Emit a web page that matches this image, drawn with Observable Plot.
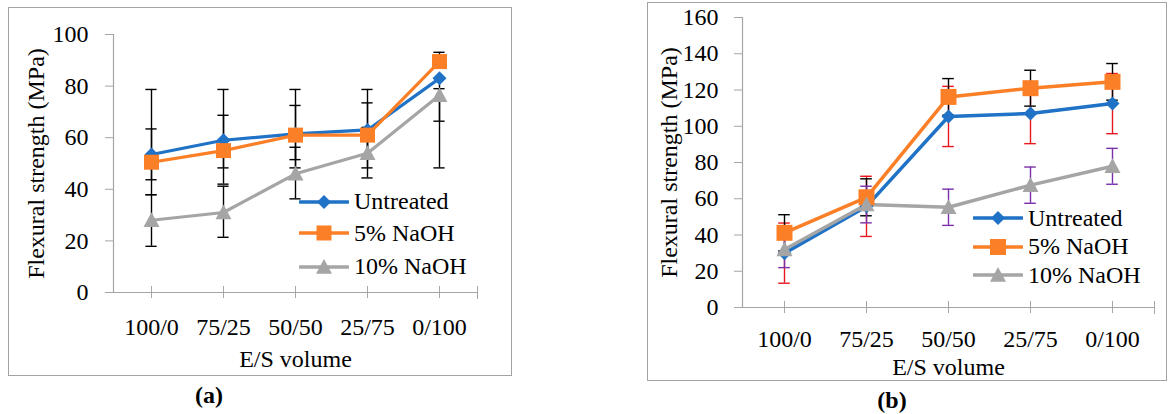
<!DOCTYPE html>
<html>
<head>
<meta charset="utf-8">
<script src="https://cdn.jsdelivr.net/npm/d3@7"></script>
<script src="https://cdn.jsdelivr.net/npm/@observablehq/plot@0.6"></script>
<style>
  body { margin: 0; background: #fff; }
  #wrap { position: relative; width: 1169px; height: 414px; overflow: hidden; font-family: "Liberation Serif", serif; color: #000; }
  .box { position: absolute; border: 1.5px solid #a3a3a3; box-sizing: border-box; }
  .panel { position: absolute; top: 0; }
  .legrow { position: absolute; display: flex; align-items: center; height: 30px; font-size: 24px; white-space: nowrap; }
  .legrow svg { display: block; margin-right: 5px; }
  .tag { position: absolute; font-weight: bold; font-size: 24px; line-height: 1; }
</style>
</head>
<body>
<div id="wrap"></div>
<script>
// ---------------- data ----------------
const categories = ["100/0", "75/25", "50/50", "25/75", "0/100"];
const seriesNames = ["Untreated", "5% NaOH", "10% NaOH"];
const yTicksA = [0, 20, 40, 60, 80, 100];
const yTicksB = [0, 20, 40, 60, 80, 100, 120, 140, 160];

// panel (a): mean values and error-bar ends (MPa)
const aUntreated     = [53.5, 59.0, 61.5, 63.0, 83.0];
const aUntreatedLow  = [43.7, 48.3, 51.5, 53.0, 48.3];
const aUntreatedHigh = [63.4, 68.7, 72.5, 73.5, 83.0];
const aNaOH5         = [50.5, 55.0, 61.0, 61.0, 89.5];
const aNaOH5Low      = [37.9, 42.0, 48.3, 48.3, 89.5];
const aNaOH5High     = [78.7, 78.7, 78.7, 78.7, 93.1];
const aNaOH10        = [28.0, 31.0, 46.0, 54.0, 76.5];
const aNaOH10Low     = [17.9, 21.4, 36.3, 44.4, 66.4];
const aNaOH10High    = [37.9, 41.2, 56.3, 64.0, 79.0];

// panel (b): mean values and symmetric errors (MPa)
const bUntreated    = [30.0, 55.8, 105.4, 107.0, 112.5];
const bUntreatedErr = [16.6, 16.6, 16.6, 16.6, 16.6];
const bNaOH5        = [41.2, 60.8, 116.2, 121.0, 124.5];
const bNaOH5Err     = [10.0, 10.2, 10.1, 9.9, 10.1];
const bNaOH10       = [32.0, 56.8, 55.3, 67.5, 77.9];
const bNaOH10Err    = [10.0, 10.1, 10.0, 10.0, 9.9];

// ---------------- helpers ----------------
const rOf = s => s / Math.sqrt(Math.PI); // side in px -> Plot dot r
const symSquare = { draw(ctx, size) { const h = Math.sqrt(size) / 2; ctx.moveTo(-h, -h); ctx.lineTo(h, -h); ctx.lineTo(h, h); ctx.lineTo(-h, h); ctx.closePath(); } };
const symDiamond = { draw(ctx, size) { const h = Math.sqrt(size) / 2; ctx.moveTo(0, -h); ctx.lineTo(h, 0); ctx.lineTo(0, h); ctx.lineTo(-h, 0); ctx.closePath(); } };
const symTriangle = { draw(ctx, size) { const h = Math.sqrt(size) / 2; ctx.moveTo(0, -h); ctx.lineTo(h, h * 0.85); ctx.lineTo(-h, h * 0.85); ctx.closePath(); } };

const colors = ["#1f72c6", "#fb7f26", "#a5a5a5"];
const symbols = [symDiamond, symSquare, symTriangle];

function rows(values, low, high) {
  return categories.map((c, i) => ({ cat: c, value: values[i], low: low[i], high: high[i] }));
}

function drawPanel(cfg) {
  const bw = (cfg.width - cfg.ml - cfg.mr) / categories.length;
  const capInset = bw / 2 - 6;
  const marks = [
    Plot.frame({ anchor: "left", stroke: "#a6a6a6", strokeWidth: 1.2 }),
    Plot.frame({ anchor: "bottom", stroke: "#a6a6a6", strokeWidth: 1.2 }),
    Plot.frame({ anchor: "right", stroke: "#a6a6a6", insetTop: cfg.frameH - 6, insetBottom: -6 }),
    Plot.axisY({ ticks: cfg.yTicks, tickSize: 8, tickPadding: cfg.yPad, stroke: "#a6a6a6",
      label: "Flexural strength (MPa)", labelAnchor: "center", labelOffset: cfg.yLabelOffset, labelArrow: "none" }),
    Plot.axisX({ tickSize: 12, dy: -6, stroke: "#a6a6a6", fill: "none", label: null }),
    Plot.axisX({ tickSize: 0, tickPadding: cfg.xPad, label: "E/S volume", labelAnchor: "center", labelOffset: cfg.xLabelOffset, labelArrow: "none" })
  ];
  cfg.series.forEach(s => {
    marks.push(
      Plot.ruleX(s.data, { x: "cat", y1: "low", y2: "high", stroke: s.errColor, strokeWidth: 1.4 }),
      Plot.tickY(s.data, { x: "cat", y: "low", stroke: s.errColor, strokeWidth: 1.4, insetLeft: capInset, insetRight: capInset }),
      Plot.tickY(s.data, { x: "cat", y: "high", stroke: s.errColor, strokeWidth: 1.4, insetLeft: capInset, insetRight: capInset })
    );
  });
  cfg.series.forEach(s => {
    marks.push(Plot.line(s.data, { x: "cat", y: "value", stroke: s.color, strokeWidth: cfg.lineW, strokeLinejoin: "round" }));
  });
  cfg.series.forEach(s => {
    marks.push(Plot.dot(s.data, { x: "cat", y: "value", symbol: s.symbol, r: s.r, fill: s.color, stroke: "none" }));
  });
  return Plot.plot({
    width: cfg.width, height: cfg.height,
    marginTop: cfg.mt, marginRight: cfg.mr, marginBottom: cfg.mb, marginLeft: cfg.ml,
    style: { fontFamily: "Liberation Serif", fontSize: "24px", color: "#000", background: "transparent", overflow: "visible" },
    x: { type: "band", domain: categories, padding: 0 },
    y: { domain: [0, cfg.yMax] },
    marks
  });
}

const wrap = document.getElementById("wrap");
function addBox(l, t, w, h) {
  const d = document.createElement("div"); d.className = "box";
  Object.assign(d.style, { left: l + "px", top: t + "px", width: w + "px", height: h + "px" });
  wrap.appendChild(d);
}
addBox(8, 7, 504, 369);
addBox(647, 2, 520, 379);

// ---------------- panel (a) ----------------
const seriesA = [
  { data: rows(aUntreated, aUntreatedLow, aUntreatedHigh), color: colors[0], symbol: symbols[0], r: rOf(14), errColor: "#000" },
  { data: rows(aNaOH5, aNaOH5Low, aNaOH5High), color: colors[1], symbol: symbols[1], r: rOf(15), errColor: "#000" },
  { data: rows(aNaOH10, aNaOH10Low, aNaOH10High), color: colors[2], symbol: symbols[2], r: rOf(16), errColor: "#000" }
];
const pA = drawPanel({ width: 500, height: 380, mt: 34, mr: 23, mb: 88, ml: 113, frameH: 258,
  yMax: 100, yTicks: yTicksA, yPad: 17, xPad: 25, yLabelOffset: 87, xLabelOffset: 74, lineW: 3.2, series: seriesA });
pA.classList.add("panel"); pA.style.left = "0px";
wrap.appendChild(pA);

// ---------------- panel (b) ----------------
const err = (v, e) => [v.map((x, i) => x - e[i]), v.map((x, i) => x + e[i])];
const [bUL, bUH] = err(bUntreated, bUntreatedErr);
const [b5L, b5H] = err(bNaOH5, bNaOH5Err);
const [b10L, b10H] = err(bNaOH10, bNaOH10Err);
const seriesB = [
  { data: rows(bUntreated, bUL, bUH), color: colors[0], symbol: symbols[0], r: rOf(14), errColor: "#e8161e" },
  { data: rows(bNaOH5, b5L, b5H), color: colors[1], symbol: symbols[1], r: rOf(16), errColor: "#000" },
  { data: rows(bNaOH10, b10L, b10H), color: colors[2], symbol: symbols[2], r: rOf(16), errColor: "#7a30a8" }
];
const pB = drawPanel({ width: 529, height: 390, mt: 17, mr: 15, mb: 83, ml: 102, frameH: 290,
  yMax: 160, yTicks: yTicksB, yPad: 16, xPad: 22, yLabelOffset: 83, xLabelOffset: 67, lineW: 3.5, series: seriesB });
pB.classList.add("panel"); pB.style.left = "640px";
wrap.appendChild(pB);

// ---------------- legends ----------------
function legend(left, tops, sizes) {
  seriesNames.forEach((name, i) => {
    const row = document.createElement("div"); row.className = "legrow";
    row.style.left = left + "px"; row.style.top = (tops[i] - 15) + "px";
    const svg = d3.create("svg").attr("width", 50).attr("height", 20);
    svg.append("line").attr("x1", 1).attr("x2", 49).attr("y1", 10).attr("y2", 10)
      .attr("stroke", colors[i]).attr("stroke-width", 3.4).attr("stroke-linecap", "round");
    svg.append("path").attr("transform", "translate(25,10)")
      .attr("d", d3.symbol(symbols[i], sizes[i] * sizes[i])()).attr("fill", colors[i]);
    row.appendChild(svg.node());
    const t = document.createElement("span"); t.textContent = name;
    row.appendChild(t);
    wrap.appendChild(row);
  });
}
legend(299, [201.7, 233.3, 266.7], [14, 15, 16]);
legend(973, [218.3, 246.7, 275], [14, 16, 16]);

// ---------------- panel tags ----------------
function tag(text, cx, cy) {
  const d = document.createElement("div"); d.className = "tag"; d.textContent = text;
  wrap.appendChild(d);
  const w = d.getBoundingClientRect().width, h = d.getBoundingClientRect().height;
  d.style.left = (cx - w / 2) + "px"; d.style.top = (cy - h / 2) + "px";
}
tag("(a)", 209, 395);
tag("(b)", 892, 400);
</script>
</body>
</html>
